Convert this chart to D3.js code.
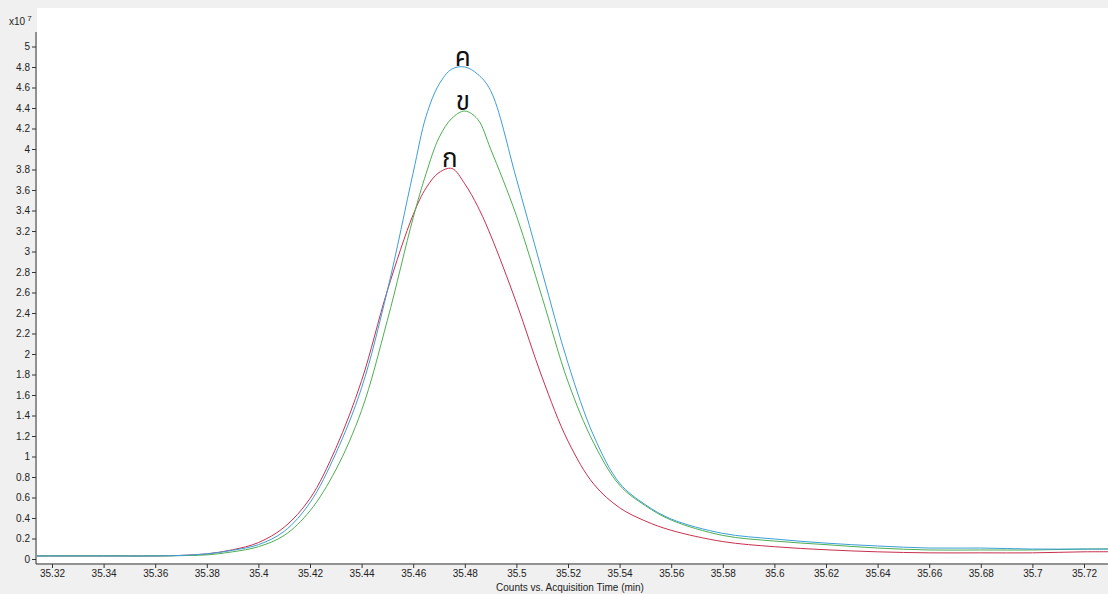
<!DOCTYPE html>
<html>
<head>
<meta charset="utf-8">
<script src="https://cdn.jsdelivr.net/npm/d3@7"></script>
<style>
  html, body { margin: 0; padding: 0; background: #f0f0f0; }
  svg { display: block; }
  .tick text { font-family: "Liberation Sans", Arial, sans-serif; font-size: 10px; fill: #222; }
</style>
</head>
<body>
<svg id="chart" width="1108" height="594"></svg>
<script>
// ---- data (intensity in units of 1e7 counts) ----
const times = [35.30, 35.32, 35.34, 35.36, 35.37, 35.38, 35.39, 35.40, 35.41, 35.42, 35.43, 35.44, 35.45, 35.46,
  35.465, 35.47, 35.475, 35.48, 35.485, 35.49, 35.50, 35.51, 35.52, 35.53, 35.54, 35.55, 35.56,
  35.58, 35.60, 35.62, 35.64, 35.66, 35.68, 35.70, 35.72, 35.74];
const seriesKor = [0.03, 0.03, 0.03, 0.03, 0.035, 0.05, 0.09, 0.16, 0.31, 0.59, 1.08, 1.74, 2.62, 3.36,
  3.62, 3.77, 3.81, 3.66, 3.44, 3.16, 2.50, 1.77, 1.15, 0.73, 0.50, 0.37, 0.28,
  0.17, 0.12, 0.09, 0.07, 0.06, 0.06, 0.06, 0.07, 0.07];
const seriesKhor = [0.03, 0.03, 0.03, 0.03, 0.033, 0.04, 0.07, 0.12, 0.23, 0.47, 0.87, 1.45, 2.33, 3.33,
  3.76, 4.11, 4.30, 4.37, 4.29, 4.00, 3.35, 2.55, 1.73, 1.13, 0.72, 0.52, 0.38,
  0.23, 0.175, 0.14, 0.107, 0.088, 0.088, 0.088, 0.097, 0.097];
const seriesKhor2 = [0.03, 0.03, 0.03, 0.03, 0.035, 0.05, 0.085, 0.14, 0.27, 0.55, 1.03, 1.67, 2.62, 3.77,
  4.32, 4.63, 4.78, 4.80, 4.73, 4.57, 3.71, 2.80, 1.91, 1.20, 0.74, 0.53, 0.39,
  0.25, 0.195, 0.155, 0.127, 0.107, 0.107, 0.097, 0.097, 0.097];
const seriesNames = ["ก", "ข", "ค"];
const seriesColors = ["#c8304f", "#4caf50", "#3b9fd8"];
const xTicks = [35.32, 35.34, 35.36, 35.38, 35.40, 35.42, 35.44, 35.46, 35.48, 35.50, 35.52, 35.54, 35.56,
  35.58, 35.60, 35.62, 35.64, 35.66, 35.68, 35.70, 35.72];
const yTicks = d3.range(0, 26).map(i => +(i * 0.2).toFixed(1));
const xTitle = "Counts vs. Acquisition Time (min)";

const svg = d3.select("#chart");
const plot = { left: 37, right: 1108, top: 8, bottom: 563 };

const x = d3.scaleLinear().domain([35.32, 35.72]).range([52, 1084]);
const y = d3.scaleLinear().domain([0, 5]).range([559, 46.5]);

// plot background
svg.append("rect").attr("x", plot.left).attr("y", plot.top)
  .attr("width", plot.right - plot.left).attr("height", plot.bottom - plot.top)
  .attr("fill", "#ffffff");

svg.append("clipPath").attr("id", "clip").append("rect")
  .attr("x", plot.left).attr("y", plot.top)
  .attr("width", plot.right - plot.left).attr("height", plot.bottom - plot.top);

const allSeries = [seriesKor, seriesKhor, seriesKhor2];
const line = d3.line().x((d, i) => x(times[i])).y(d => y(d)).curve(d3.curveCatmullRom.alpha(0.5));

const g = svg.append("g").attr("clip-path", "url(#clip)");
allSeries.forEach((s, k) => {
  g.append("path").datum(s).attr("d", line)
    .attr("fill", "none").attr("stroke", seriesColors[k]).attr("stroke-width", 1);
});

// peak labels
allSeries.forEach((s, k) => {
  const i = d3.maxIndex(s);
  svg.append("text")
    .attr("x", x(times[i]) - 2)
    .attr("y", y(s[i]) - 1)
    .attr("text-anchor", "middle")
    .attr("font-family", "'Noto Sans Thai', 'Noto Sans', 'DejaVu Sans', sans-serif")
    .attr("font-size", 26)
    .attr("fill", "#111")
    .text(seriesNames[k]);
});

// y axis
const yAxis = d3.axisLeft(y).tickValues(yTicks).tickSize(4).tickPadding(2)
  .tickFormat(d => d3.format("~g")(d));
const ya = svg.append("g").attr("transform", "translate(36,0)").call(yAxis);
ya.select(".domain").attr("d", "M0,32V564").attr("stroke", "#333");
ya.selectAll(".tick line").attr("stroke", "#333");

// x axis
const xAxis = d3.axisBottom(x).tickValues(xTicks).tickSize(4).tickPadding(2)
  .tickFormat(d => d3.format("~g")(d));
const xa = svg.append("g").attr("transform", "translate(0,564)").call(xAxis);
xa.select(".domain").attr("d", "M36,0H1108").attr("stroke", "#333");
xa.selectAll(".tick line").attr("stroke", "#333");

// multiplier label
const mult = svg.append("text").attr("x", 9).attr("y", 25)
  .attr("font-family", "'Liberation Sans', Arial, sans-serif").attr("font-size", 10).attr("fill", "#222");
mult.append("tspan").text("x10");
mult.append("tspan").attr("dx", 2).attr("dy", -4).attr("font-size", 8).text("7");

// axis title
svg.append("text").attr("x", 570).attr("y", 591).attr("text-anchor", "middle")
  .attr("font-family", "'Liberation Sans', Arial, sans-serif").attr("font-size", 10).attr("fill", "#222")
  .text(xTitle);
</script>
</body>
</html>
